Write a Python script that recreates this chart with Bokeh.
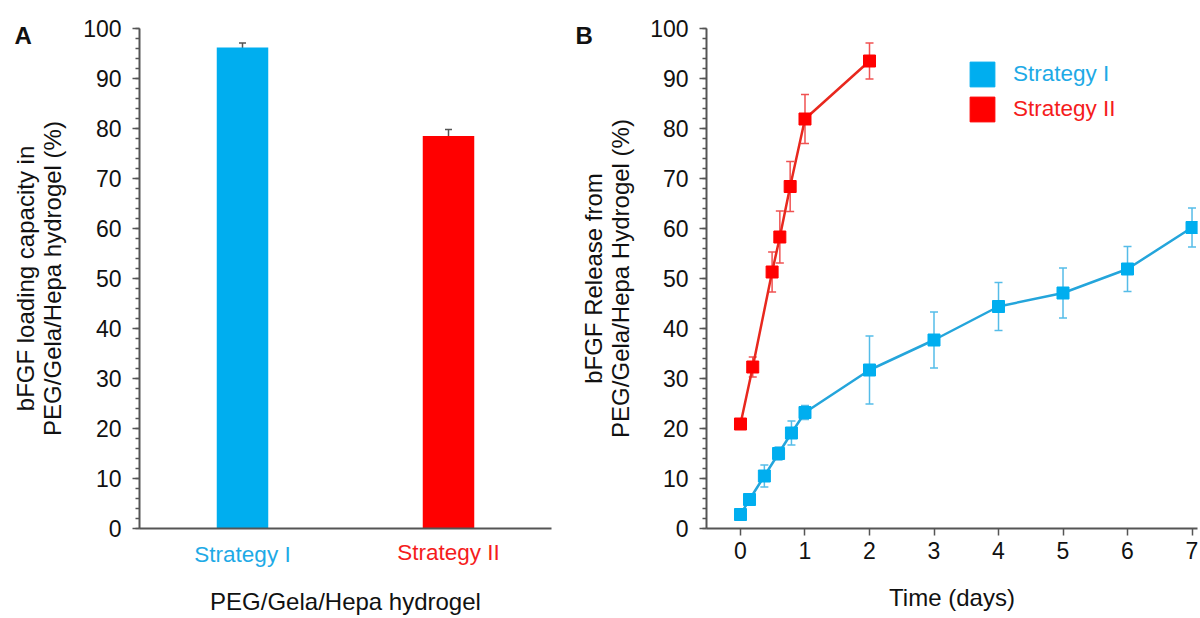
from bokeh.plotting import figure
from bokeh.layouts import row
from bokeh.models import (ColumnDataSource, Whisker, TeeHead, Legend, LegendItem,
                          FixedTicker, Range1d, LinearAxis)
from bokeh.embed import file_html
from bokeh.resources import INLINE

# ---------------- data ----------------
categories = ["Strategy I", "Strategy II"]
loading = [96.2, 78.5]
loading_err = [0.9, 1.3]

time_s1 = [0, 0.14, 0.37, 0.59, 0.79, 1, 2, 3, 4, 5, 6, 7]
release_s1 = [2.8, 5.8, 10.5, 15.0, 19.1, 23.2, 31.7, 37.7, 44.4, 47.1, 51.9, 60.2]
err_s1 = [0.6, 0.6, 2.2, 1.3, 2.4, 1.4, 6.8, 5.6, 4.8, 5.0, 4.5, 3.9]

time_s2 = [0, 0.19, 0.49, 0.61, 0.77, 1, 2]
release_s2 = [20.9, 32.3, 51.3, 58.3, 68.4, 81.9, 93.5]
err_s2 = [0.6, 2.0, 4.0, 5.2, 5.0, 4.9, 3.6]

y_major = list(range(0, 101, 10))
y_minor = list(range(0, 101, 2))
x_major_b = list(range(0, 8))

# ---------------- style ----------------
BLUE = "#00AEEF"
RED = "#FF0000"
BLUE_LINE = "#24A5DB"
RED_LINE = "#E8281E"
BLUE_ERR = "#55BCE8"
RED_ERR = "#F05252"
BLUE_TXT = "#1EAAE6"
RED_TXT = "#F51C1C"
AXIS = "#555555"
TXT = "#111111"
FONT = "Liberation Sans"
FS_TICK = "23px"
FS_CAT = "22.5px"
FS_TITLE = "24px"
label_colors = [BLUE_TXT, RED_TXT]
bar_colors = [BLUE, RED]

H = 618
TOP = 28
BOTTOM = 90


def style_title(ax):
    ax.axis_label_text_font = FONT
    ax.axis_label_text_font_size = FS_TITLE
    ax.axis_label_text_font_style = "normal"
    ax.axis_label_text_color = TXT
    ax.axis_label_text_line_height = 1.0


def style_y(p):
    ax = p.yaxis[0]
    ax.ticker = FixedTicker(ticks=y_major, minor_ticks=y_minor)
    ax.axis_line_color = AXIS
    ax.axis_line_width = 2
    ax.major_tick_line_color = AXIS
    ax.major_tick_line_width = 1.5
    ax.minor_tick_line_color = AXIS
    ax.minor_tick_line_width = 1.5
    ax.major_tick_in = 0
    ax.major_tick_out = 7
    ax.minor_tick_in = 0
    ax.minor_tick_out = 4
    ax.major_label_text_font = FONT
    ax.major_label_text_font_size = FS_TICK
    ax.major_label_text_color = TXT
    ax.major_label_standoff = 11
    style_title(ax)


def panel_letter(p, letter, offset):
    t = p.title
    t.text = letter
    t.align = "left"
    t.offset = offset
    t.vertical_align = "bottom"
    t.text_font = FONT
    t.text_font_size = "24px"
    t.text_font_style = "bold"
    t.text_color = TXT
    try:
        t.standoff = -40
    except Exception:
        t.standoff = 0


# ---------------- panel A ----------------
cat_x = [i + 0.5 for i in range(len(categories))]
src_a = ColumnDataSource(dict(x=cat_x, val=loading,
                              lo=[v - e for v, e in zip(loading, loading_err)],
                              hi=[v + e for v, e in zip(loading, loading_err)],
                              color=bar_colors))

pA = figure(x_range=Range1d(0, len(categories)), y_range=Range1d(0, 100),
            width=576, height=H, min_border_left=139, min_border_right=25,
            min_border_top=TOP, min_border_bottom=BOTTOM,
            output_backend="svg", toolbar_location=None, x_axis_type=None)
pA.vbar(x="x", top="val", width=0.25, fill_color="color", line_color=None, source=src_a)
pA.add_layout(Whisker(base="x", upper="hi", lower="lo", source=src_a,
                      line_color=AXIS, line_width=1.5,
                      upper_head=TeeHead(size=7, line_color=AXIS, line_width=1.5),
                      lower_head=TeeHead(size=7, line_color=AXIS, line_width=1.5)))
style_y(pA)
pA.yaxis.axis_label = "bFGF loading capacity in\nPEG/Gela/Hepa hydrogel (%)"
pA.yaxis.axis_label_standoff = 14

# one category axis per label so that each keeps its own colour.
# The first one (next to the plot) draws the axis line; the following ones are
# pulled back up to the same row with a negative standoff.
CAT_STANDOFF = 13
CAT_LABEL_H = 30
for i, (c, col) in enumerate(zip(categories, label_colors)):
    first = i == 0
    last = i == len(categories) - 1
    ax = LinearAxis(ticker=FixedTicker(ticks=[cat_x[i]], minor_ticks=[]),
                    major_label_overrides={cat_x[i]: c})
    ax.major_tick_line_color = None
    ax.minor_tick_line_color = None
    ax.major_tick_out = 0
    ax.major_tick_in = 0
    ax.major_label_standoff = CAT_STANDOFF if first else CAT_STANDOFF - (CAT_STANDOFF + CAT_LABEL_H) * i
    ax.major_label_text_font = FONT
    ax.major_label_text_font_size = FS_CAT
    ax.major_label_text_color = col
    if first:
        ax.axis_line_color = AXIS
        ax.axis_line_width = 2
    else:
        ax.axis_line_color = None
    if last:
        ax.axis_label = "PEG/Gela/Hepa hydrogel"
        style_title(ax)
        ax.axis_label_standoff = 20
    pA.add_layout(ax, "below")

panel_letter(pA, "A", -125)

# ---------------- panel B ----------------
def src(t, v, e):
    return ColumnDataSource(dict(t=t, v=v, lo=[a - b for a, b in zip(v, e)],
                                 hi=[a + b for a, b in zip(v, e)]))

s1 = src(time_s1, release_s1, err_s1)
s2 = src(time_s2, release_s2, err_s2)

pB = figure(x_range=Range1d(-0.527, 7.085), y_range=Range1d(0, 100),
            width=624, height=H, min_border_left=130, min_border_right=3,
            min_border_top=TOP, min_border_bottom=BOTTOM,
            output_backend="svg", toolbar_location=None)
markers = []
for s, lc, ec, mc in [(s1, BLUE_LINE, BLUE_ERR, BLUE), (s2, RED_LINE, RED_ERR, RED)]:
    pB.add_layout(Whisker(base="t", upper="hi", lower="lo", source=s,
                          line_color=ec, line_width=1.5,
                          upper_head=TeeHead(size=8, line_color=ec, line_width=1.5),
                          lower_head=TeeHead(size=8, line_color=ec, line_width=1.5)))
    pB.line("t", "v", source=s, line_color=lc, line_width=2.5)
    markers.append(pB.scatter("t", "v", source=s, marker="square", size=12,
                              fill_color=mc, line_color=mc))

style_y(pB)
pB.yaxis.axis_label = "bFGF Release from\nPEG/Gela/Hepa Hydrogel (%)"
pB.yaxis.axis_label_standoff = 13
xb = pB.xaxis[0]
xb.ticker = FixedTicker(ticks=x_major_b, minor_ticks=[])
xb.axis_line_color = AXIS
xb.axis_line_width = 2
xb.major_tick_line_color = AXIS
xb.major_tick_line_width = 1.5
xb.major_tick_in = 0
xb.major_tick_out = 7
xb.minor_tick_line_color = None
xb.major_label_text_font = FONT
xb.major_label_text_font_size = FS_TICK
xb.major_label_text_color = TXT
xb.major_label_standoff = 6
xb.axis_label = "Time (days)"
style_title(xb)
xb.axis_label_standoff = 22

# legend: one per series so each label keeps its colour
for k, (name, r, tcol) in enumerate(zip(categories, markers, label_colors)):
    leg = Legend(items=[LegendItem(label=name, renderers=[r])],
                 location=(245, 423 - 35 * k), orientation="vertical",
                 border_line_color=None, background_fill_alpha=0,
                 padding=0, margin=0, spacing=0,
                 glyph_width=62, glyph_height=62, label_standoff=0,
                 label_text_font=FONT, label_text_font_size=FS_CAT, label_text_color=tcol)
    pB.add_layout(leg)

panel_letter(pB, "B", -131)

for p in (pA, pB):
    p.xgrid.grid_line_color = None
    p.ygrid.grid_line_color = None
    p.outline_line_color = None
    p.background_fill_color = "white"

layout = row(pA, pB)
open("out.html", "w").write(file_html(layout, INLINE))
